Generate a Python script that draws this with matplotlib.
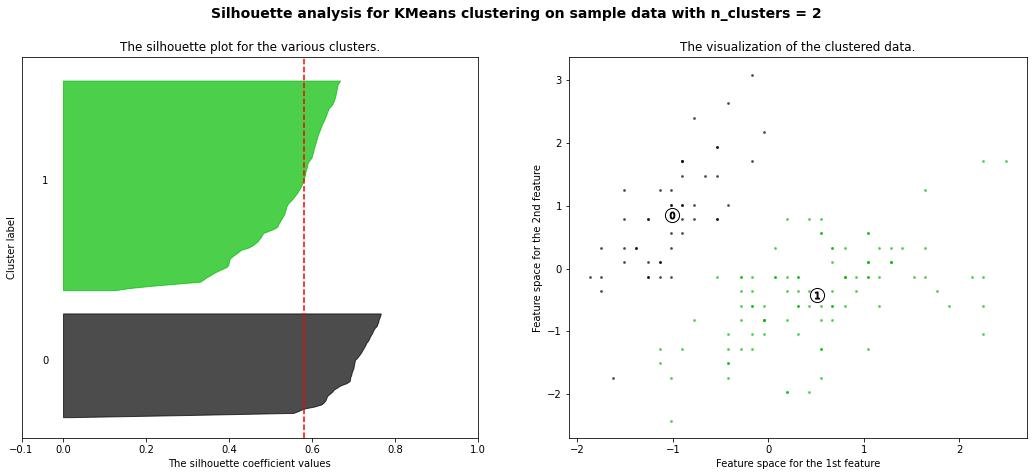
import numpy as np
import matplotlib
matplotlib.use("Agg")
import matplotlib.pyplot as plt
import matplotlib.cm as cm

n_clusters = 2

# sorted silhouette values per cluster
sil_0 = [0.02, 0.30, 0.555, 0.568, 0.579, 0.605, 0.622, 0.628, 0.632, 0.634,
         0.636, 0.642, 0.648, 0.652, 0.660, 0.668, 0.682, 0.690, 0.691, 0.692,
         0.694, 0.695, 0.697, 0.699, 0.700, 0.701, 0.702, 0.703, 0.708, 0.712,
         0.716, 0.719, 0.722, 0.725, 0.728, 0.730, 0.734, 0.737, 0.739, 0.742,
         0.745, 0.747, 0.750, 0.755, 0.757, 0.759, 0.760, 0.762, 0.764, 0.765]
sil_1 = [0.125, 0.16, 0.21, 0.27, 0.33, 0.338, 0.345, 0.354, 0.362, 0.372,
         0.383, 0.394, 0.398, 0.399, 0.400, 0.402, 0.408, 0.415, 0.422, 0.428,
         0.445, 0.455, 0.462, 0.468, 0.472, 0.476, 0.479, 0.482, 0.495, 0.508,
         0.516, 0.518, 0.521, 0.524, 0.527, 0.530, 0.533, 0.534, 0.536, 0.537,
         0.539, 0.542, 0.547, 0.552, 0.556, 0.560, 0.564, 0.567, 0.570, 0.573,
         0.575, 0.577, 0.579, 0.580, 0.582, 0.583, 0.584, 0.585, 0.587, 0.588,
         0.589, 0.592, 0.596, 0.599, 0.600, 0.602, 0.603, 0.604, 0.606, 0.607,
         0.609, 0.610, 0.612, 0.613, 0.615, 0.617, 0.619, 0.621, 0.623, 0.625,
         0.628, 0.630, 0.632, 0.634, 0.636, 0.638, 0.640, 0.645, 0.649, 0.651,
         0.653, 0.655, 0.656, 0.657, 0.658, 0.659, 0.660, 0.661, 0.664, 0.667]
silhouette_avg = 0.58

# feature space coordinates (1st / 2nd feature) per cluster
c0_x = [-0.90, -1.14, -1.39, -1.51, -1.02, -0.54, -1.51, -1.02, -1.75, -1.14,
        -0.54, -1.26, -1.26, -1.87, -0.05, -0.17, -0.54, -0.90, -0.17, -0.90,
        -0.54, -0.90, -1.51, -0.90, -1.26, -1.02, -1.02, -0.78, -0.78, -1.39,
        -1.26, -0.54, -0.78, -0.42, -1.14, -1.02, -0.42, -1.14, -1.75, -0.90,
        -1.02, -1.63, -1.75, -1.02, -0.90, -1.26, -0.90, -1.51, -0.66, -1.02]
c0_y = [1.02, -0.13, 0.33, 0.10, 1.25, 1.94, 0.79, 0.79, -0.36, 0.10,
        1.48, 0.79, -0.13, -0.13, 2.17, 3.09, 1.94, 1.02, 1.71, 1.71,
        0.79, 1.48, 1.25, 0.56, 0.79, -0.13, 0.79, 1.02, 0.79, 0.33,
        0.10, 0.79, 2.40, 2.63, 0.10, 0.33, 1.02, 1.25, -0.13, 0.79,
        1.02, -1.74, 0.33, 1.02, 1.71, -0.13, 1.71, 0.33, 1.48, 0.56]
c1_x = [1.40, 0.67, 1.28, -0.42, 0.80, -0.17, 0.55, -1.14, 0.92, -0.78,
        -1.02, 0.07, 0.19, 0.31, -0.29, 1.04, -0.29, -0.05, 0.43, -0.29,
        0.07, 0.31, 0.55, 0.31, 0.67, 0.92, 1.16, 1.04, 0.19, -0.17,
        -0.42, -0.42, -0.05, 0.19, -0.54, 0.19, 1.04, 0.55, -0.29, -0.42,
        -0.42, 0.31, -0.05, -1.02, -0.29, -0.17, -0.17, 0.43, -0.90, -0.17,
        0.55, -0.05, 1.52, 0.55, 0.80, 2.13, -1.14, 1.77, 1.04, 1.64,
        0.80, 0.67, 1.16, -0.17, -0.05, 0.67, 0.80, 2.25, 2.25, 0.19,
        1.28, -0.29, 2.25, 0.55, 1.04, 1.64, 0.43, 0.31, 0.67, 1.64,
        1.89, 2.49, 0.67, 0.55, 0.31, 2.25, 0.55, 0.67, 0.19, 1.28,
        1.04, 1.28, -0.05, 1.16, 1.04, 1.04, 0.55, 0.80, 0.43, 0.07]
c1_y = [0.33, 0.33, 0.10, -1.74, -0.59, -0.59, 0.56, -1.51, -0.36, -0.82,
        -2.43, -0.13, -1.97, -0.36, -0.36, 0.10, -0.13, -0.82, -1.97, -1.28,
        0.33, -0.59, -1.28, -0.59, -0.36, -0.13, -0.59, -0.13, -0.36, -1.05,
        -1.51, -1.51, -0.82, -0.82, -0.13, 0.79, 0.10, -1.74, -0.13, -1.28,
        -1.05, -0.13, -1.05, -1.74, -0.82, -0.13, -0.36, -0.36, -1.28, -0.59,
        0.56, -0.82, -0.13, -0.36, -0.13, -0.13, -1.28, -0.36, -1.28, 1.25,
        0.33, -0.82, -0.13, -1.28, -0.59, 0.33, -0.13, 1.71, -1.05, -1.97,
        0.33, -0.59, -0.59, -0.82, 0.56, 0.33, -0.59, -0.13, -0.59, -0.13,
        -0.59, 1.71, -0.59, -0.59, -1.05, -0.13, 0.79, 0.10, -0.13, 0.10,
        0.10, 0.10, -0.82, 0.33, 0.56, -0.13, -1.28, -0.13, 0.79, -0.13]

centers_x = [-1.01, 0.51]
centers_y = [0.85, -0.43]

sil_values = [sil_0, sil_1]
pts_x = [c0_x, c1_x]
pts_y = [c0_y, c1_y]

fig = plt.figure(figsize=(1032 / 72, 476 / 72), dpi=72)
ax1 = fig.add_axes([21.5 / 1032, 1 - 438.3 / 476, 456.8 / 1032, 381 / 476])
ax2 = fig.add_axes([569 / 1032, 1 - 438.3 / 476, 458 / 1032, 381 / 476])

n_total = len(sil_0) + len(sil_1)
ax1.set_xlim([-0.1, 1])
ax1.set_ylim([0, n_total + (n_clusters + 1) * 10])

y_lower = 10
for i in range(n_clusters):
    vals = np.array(sil_values[i])
    size_i = len(vals)
    y_upper = y_lower + size_i
    color = cm.nipy_spectral(float(i) / n_clusters)
    ax1.fill_betweenx(np.arange(y_lower, y_upper), 0, vals,
                      facecolor=color, edgecolor=color, alpha=0.7)
    ax1.text(-0.05, y_lower + 0.5 * size_i, str(i), fontsize=10)
    y_lower = y_upper + 10

ax1.set_title("The silhouette plot for the various clusters.", fontsize=12)
ax1.set_xlabel("The silhouette coefficient values")
ax1.set_ylabel("Cluster label")
ax1.axvline(x=silhouette_avg, color="red", linestyle="--")
ax1.set_yticks([])
ax1.set_xticks([-0.1, 0, 0.2, 0.4, 0.6, 0.8, 1])

# scatter of the clustered data
for i in range(n_clusters):
    color = cm.nipy_spectral(float(i) / n_clusters)
    ax2.scatter(pts_x[i], pts_y[i], marker='.', s=30, lw=0, alpha=0.7,
                color=color, edgecolor='k')

ax2.scatter(centers_x, centers_y, marker='o', c="white", alpha=1, s=200,
            edgecolor='k')
for i in range(n_clusters):
    ax2.scatter(centers_x[i], centers_y[i], marker='$%d$' % i, alpha=1,
                s=50, edgecolor='k')

ax2.set_title("The visualization of the clustered data.", fontsize=12)
ax2.set_xlabel("Feature space for the 1st feature")
ax2.set_ylabel("Feature space for the 2nd feature")

fig.suptitle("Silhouette analysis for KMeans clustering on sample data "
             "with n_clusters = %d" % n_clusters,
             fontsize=14, fontweight='bold', y=0.985)

fig.savefig("out.png", dpi=72)
